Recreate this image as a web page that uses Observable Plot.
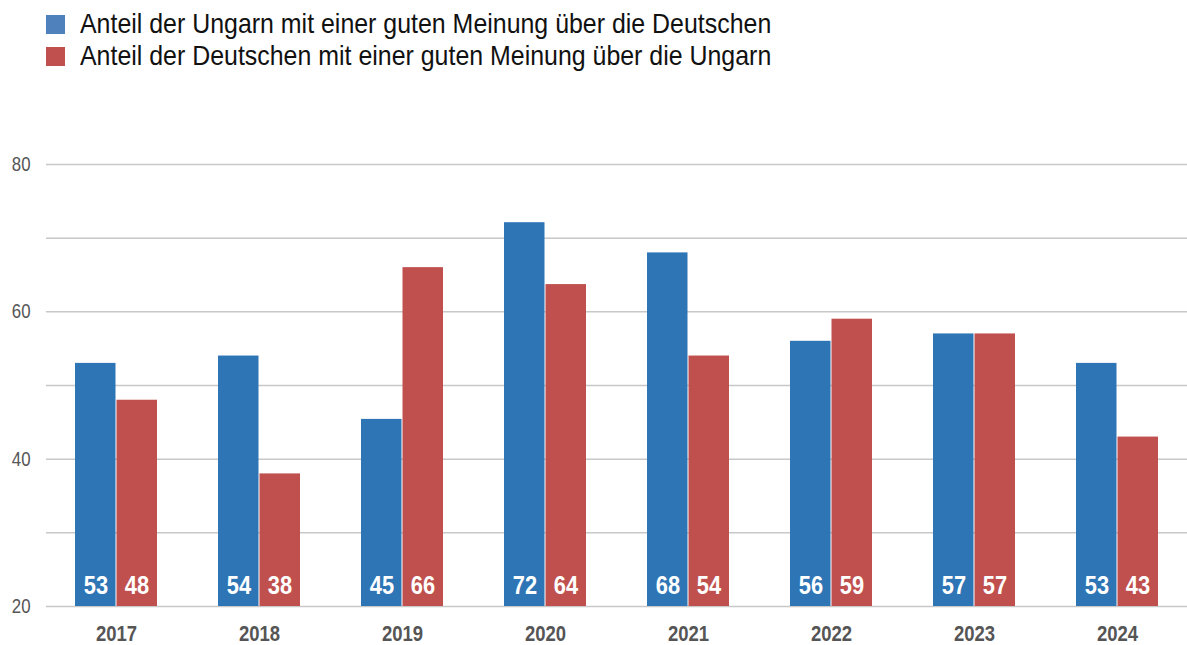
<!DOCTYPE html>
<html><head><meta charset="utf-8">
<script src="https://cdn.jsdelivr.net/npm/d3@7"></script>
<script src="https://cdn.jsdelivr.net/npm/@observablehq/plot@0.6"></script>
<style>
body{margin:0;background:#fff;font-family:"Liberation Sans",Arial,sans-serif;}
#legend{height:80px;box-sizing:border-box;padding-top:8px;padding-left:46px;}
.row{display:flex;align-items:center;height:32px;font-size:28px;color:#111;}
.sw{width:19px;height:19px;margin-right:15px;flex:none;}
.row span{display:inline-block;transform:scaleX(0.89);transform-origin:left center;white-space:nowrap;}
</style></head><body>
<div id="legend"></div>
<div id="chart"></div>
<script>
const years = ["2017","2018","2019","2020","2021","2022","2023","2024"];
const series = ["Anteil der Ungarn mit einer guten Meinung über die Deutschen","Anteil der Deutschen mit einer guten Meinung über die Ungarn"];
const ungarnValues = [53,54,45.4,72.1,68,56,57,53];
const deutscheValues = [48,38,66,63.7,54,59,57,43];
const barColors = ["#2E75B6","#C0504D"];
const legendColors = ["#4F81BD","#C0504D"];
const yTickLabels = [20,40,60,80];
const yGrid = [20,30,40,50,60,70,80];

const ungarn = years.map((y,i)=>({year:y, value:ungarnValues[i]}));
const deutsche = years.map((y,i)=>({year:y, value:deutscheValues[i]}));

const leg = document.getElementById("legend");
series.forEach((s,i)=>{
  const r=document.createElement("div");r.className="row";
  const sw=document.createElement("div");sw.className="sw";sw.style.background=legendColors[i];
  const t=document.createElement("span");t.textContent=s;
  r.appendChild(sw);r.appendChild(t);leg.appendChild(r);
});

const W=1187, ML=46, MR=0, PI=0.427, PO=0.2;
const step=(W-ML-MR)/(years.length-PI+2*PO);
const half=step*(1-PI)/2;
const font='"Liberation Sans",Arial,sans-serif';
const fmt=d3.format(".0f");

const chart = Plot.plot({
  width:W, height:565,
  marginTop:84, marginBottom:39, marginLeft:ML, marginRight:MR,
  style:{fontFamily:font, background:"#fff"},
  x:{domain:years, paddingInner:PI, paddingOuter:PO, label:null},
  y:{domain:[20,80], label:null},
  marks:[
    Plot.gridY(yGrid,{stroke:"#c8c8c8", strokeOpacity:1, strokeWidth:1.5}),
    Plot.axisY(yTickLabels,{tickSize:0, tickPadding:16, fontSize:20, fill:"#555", label:null}),
    Plot.axisX({tickSize:0, tickPadding:19, fontSize:22, fontWeight:"bold", fill:"#555", label:null}),
    Plot.barY(ungarn,{x:"year", y1:20, y2:"value", fill:barColors[0], insetRight:half+0.5}),
    Plot.barY(deutsche,{x:"year", y1:20, y2:"value", fill:barColors[1], insetLeft:half+0.5}),
    Plot.text(ungarn,{x:"year", y:20, text:d=>fmt(d.value), dx:-half/2, dy:-21, fill:"white", fontSize:26, fontWeight:"bold"}),
    Plot.text(deutsche,{x:"year", y:20, text:d=>fmt(d.value), dx:half/2, dy:-21, fill:"white", fontSize:26, fontWeight:"bold"})
  ]
});
document.getElementById("chart").appendChild(chart);
// narrow the glyphs like a condensed typeface
d3.select(chart).selectAll("text").each(function(){
  const L=this.getComputedTextLength();
  if(L>0){this.setAttribute("textLength", (L*0.84).toFixed(1)); this.setAttribute("lengthAdjust","spacingAndGlyphs");}
});
</script>
</body></html>
